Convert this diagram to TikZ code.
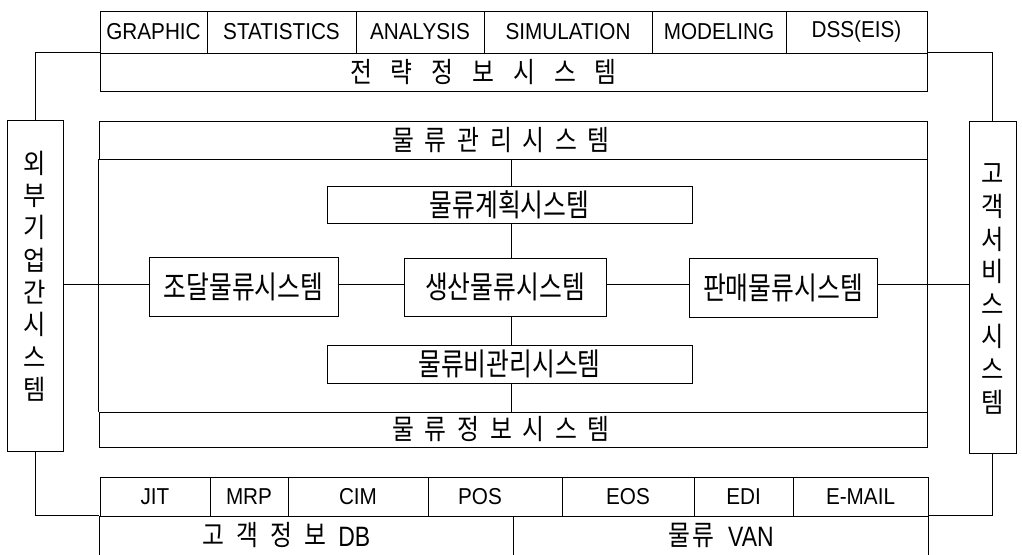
\documentclass[tikz,border=0pt]{standalone}
\usepackage{fontspec}
\newfontfamily\kr[FakeStretch=0.8]{Noto Sans CJK KR}
\newfontfamily\krn[FakeStretch=0.85]{Noto Sans CJK KR}
\newfontfamily\krv[FakeStretch=0.9]{Noto Sans CJK KR}
\newfontfamily\lat[FakeStretch=0.9]{Liberation Sans}
\newfontfamily\latn[FakeStretch=0.82]{Liberation Sans}
\newcommand\sg[1]{\hspace{#1}}
\begin{document}
\begin{tikzpicture}[x=1pt,y=-1pt,line width=0.9pt,
  cell/.style={draw,inner sep=0pt,font=\lat\fontsize{23}{26}\selectfont},
  bigkr/.style={draw,inner sep=0pt,font=\kr\fontsize{31}{34}\selectfont},
  plain/.style={draw,inner sep=0pt},
  sptxt/.style={inner sep=0pt,font=\krn\fontsize{28}{31}\selectfont},
  vtxt/.style={inner sep=0pt,align=center},
  link/.style={line width=0.8pt}]
\useasboundingbox[fill=white] (0,0) rectangle (1022,554);

% top row
\node[cell,minimum width=107pt,minimum height=42pt] (graphic) at (153.5,32) {GRAPHIC};
\node[cell,minimum width=149pt,minimum height=42pt] (stat) at (281.5,32) {STATISTICS};
\node[cell,minimum width=128pt,minimum height=42pt] (anal) at (420,32) {ANALYSIS};
\node[cell,minimum width=168pt,minimum height=42pt] (simu) at (568,32) {SIMULATION};
\node[cell,minimum width=134pt,minimum height=42pt] (model) at (719,32) {MODELING};
\node[cell,minimum width=141pt,minimum height=42pt] (dss) at (856.5,32) {DSS(EIS)};

\node[plain,minimum width=827pt,minimum height=38pt] (strat) at (513.5,72) {};
\node[sptxt] (strattxt) at (483.5,72) {전\sg{18.9pt}략\sg{18.9pt}정\sg{18.9pt}보\sg{18.9pt}시\sg{18.9pt}스\sg{18.9pt}템};

% main block
\node[plain,minimum width=828pt,minimum height=38pt] (mgmt) at (513,140) {};
\node[sptxt] (mgmttxt) at (501,140) {물\sg{10.7pt}류\sg{10.7pt}관\sg{10.7pt}리\sg{10.7pt}시\sg{10.7pt}스\sg{10.7pt}템};
\node[plain,minimum width=828pt,minimum height=35pt] (info) at (513,429.5) {};
\node[sptxt] (infotxt) at (501,429.5) {물\sg{10.7pt}류\sg{10.7pt}정\sg{10.7pt}보\sg{10.7pt}시\sg{10.7pt}스\sg{10.7pt}템};
\draw (mgmt.south west) -- (info.north west);
\draw (mgmt.south east) -- (info.north east);

\node[bigkr,minimum width=365pt,minimum height=37pt] (plan) at (509.5,204.5) {물류계획시스템};
\node[bigkr,minimum width=365pt,minimum height=38pt] (cost) at (509.5,364) {물류비관리시스템};
\node[bigkr,minimum width=189pt,minimum height=59pt] (proc) at (243.5,286.5) {조달물류시스템};
\node[bigkr,minimum width=202pt,minimum height=58pt] (prod) at (505,287) {생산물류시스템};
\node[bigkr,minimum width=188pt,minimum height=59pt] (sales) at (783,287.5) {판매물류시스템};

% side boxes
\node[plain,minimum width=56pt,minimum height=331pt] (ext) at (35,285.5) {};
\node[vtxt,font=\krv\fontsize{27}{32.3}\selectfont] (exttxt) at (35,276) {외\\부\\기\\업\\간\\시\\스\\템};
\node[plain,minimum width=47pt,minimum height=332pt] (cust) at (992.5,287) {};
\node[vtxt,font=\krv\fontsize{27}{32.6}\selectfont] (custtxt) at (992.5,289) {고\\객\\서\\비\\스\\시\\스\\템};

% bottom row
\node[cell,minimum width=110pt,minimum height=39pt] (jit) at (155,496.5) {JIT};
\node[cell,minimum width=78pt,minimum height=39pt] (mrp) at (249,496.5) {MRP};
\node[cell,minimum width=140pt,minimum height=39pt] (cim) at (358,496.5) {CIM};
\node[cell,minimum width=134pt,minimum height=39pt] (pos) at (495,496.5) {\hspace*{-30pt}POS};
\node[cell,minimum width=132pt,minimum height=39pt] (eos) at (628,496.5) {EOS};
\node[cell,minimum width=99pt,minimum height=39pt] (edi) at (743.5,496.5) {EDI};
\node[cell,minimum width=135pt,minimum height=39pt] (email) at (860.5,496.5) {E-MAIL};

\node[plain,minimum width=414pt,minimum height=54pt] (db) at (306,543) {};
\node[plain,minimum width=415pt,minimum height=54pt] (van) at (720.5,543) {};
\node[sptxt] (dbtxt) at (286.5,535) {고\sg{12pt}객\sg{12pt}정\sg{12pt}보\sg{12pt}\raisebox{-1.5pt}{\latn\fontsize{28}{31}\selectfont DB}};
\node[sptxt] (vantxt) at (721,535) {물\sg{2pt}류\sg{14pt}\raisebox{-1.5pt}{\latn\fontsize{28}{31}\selectfont VAN}};

% connectors
\coordinate (vx) at (511,0);
\coordinate (hy) at (0,284);
\draw[link] (mgmt.south -| vx) -- (plan.north -| vx);
\draw[link] (plan.south -| vx) -- (prod.north -| vx);
\draw[link] (prod.south -| vx) -- (cost.north -| vx);
\draw[link] (cost.south -| vx) -- (info.north -| vx);
\draw[link] (ext.east |- hy) -- (proc.west |- hy);
\draw[link] (proc.east |- hy) -- (prod.west |- hy);
\draw[link] (prod.east |- hy) -- (sales.west |- hy);
\draw[link] (sales.east |- hy) -- (cust.west |- hy);
\draw[link] (ext.north) |- (strat.north west);
\draw[link] (cust.north) |- (strat.north east);
\draw[link] (ext.south) |- (db.north west);
\draw[link] (cust.south) |- (van.north east);
\end{tikzpicture}
\end{document}
